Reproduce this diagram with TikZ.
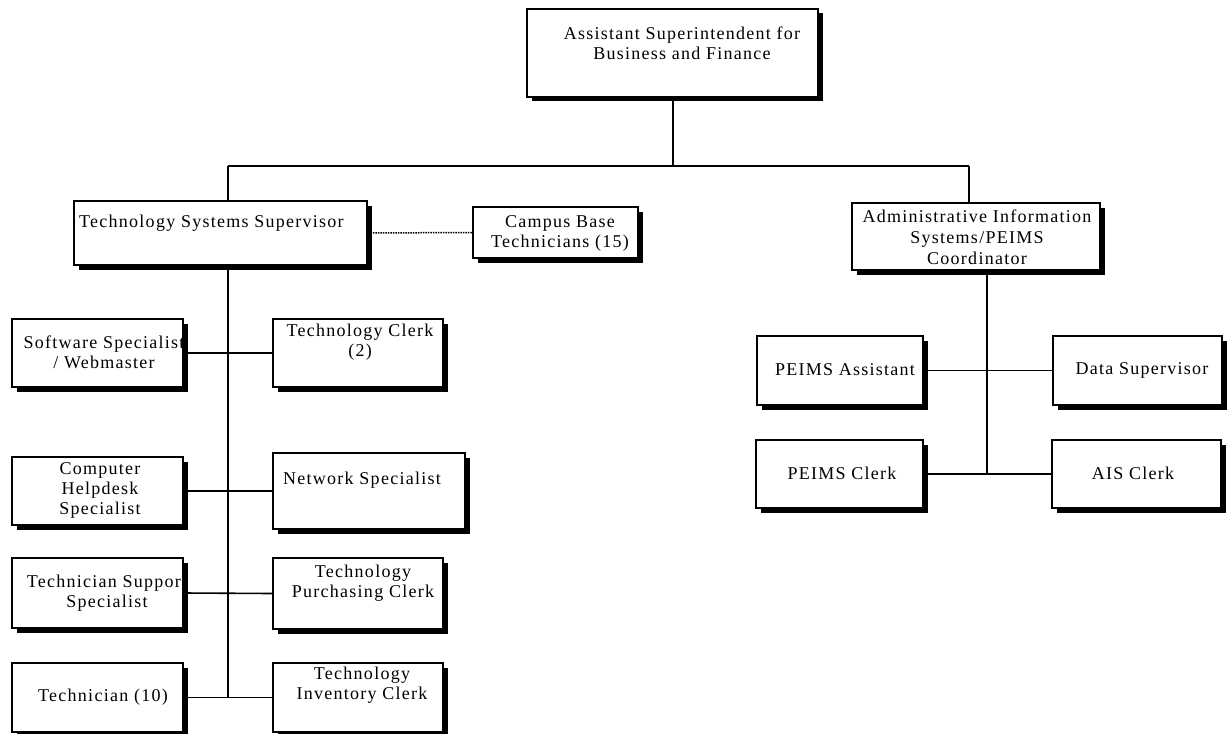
\documentclass[tikz,border=0pt]{standalone}
\usepackage{fontspec}
\setmainfont{Liberation Serif}[LetterSpace=7]
\usetikzlibrary{shadows,fit,backgrounds}
\begin{document}
\begin{tikzpicture}[x=1pt,y=-1pt,
  orgbox/.style={draw=black, line width=1.5pt, fill=white, inner sep=0pt,
    drop shadow={shadow xshift=4.5pt, shadow yshift=-4.5pt, opacity=1, fill=black}},
  orgtext/.style={inner sep=0pt, align=center, font=\fontsize{18}{20}\selectfont},
  link/.style={line width=1.6pt},
  dotlink/.style={line width=1.5pt, dash pattern=on 1.5pt off 1pt}]
\useasboundingbox (0,0) rectangle (1230,733);

% boxes, given by their corners
\node[orgbox, fit={(527,9) (818,97)}] (top) {};
\node[orgbox, fit={(74,201) (367,265)}] (tss) {};
\node[orgbox, fit={(473,207) (638,258)}] (campus) {};
\node[orgbox, fit={(852,203) (1100,270)}] (admin) {};
\node[orgbox, fit={(12,319) (183,387)}] (sw) {};
\node[orgbox, fit={(273,319) (443,387)}] (tclerk) {};
\node[orgbox, fit={(12,457) (183,525)}] (helpdesk) {};
\node[orgbox, fit={(273,453) (465,529)}] (network) {};
\node[orgbox, fit={(12,558) (183,628)}] (support) {};
\node[orgbox, fit={(273,558) (443,629)}] (purch) {};
\node[orgbox, fit={(12,663) (183,732)}] (tech10) {};
\node[orgbox, fit={(273,663) (443,732)}] (inventory) {};
\node[orgbox, fit={(757,336) (923,405)}] (peimsA) {};
\node[orgbox, fit={(1053,336) (1222,405)}] (data) {};
\node[orgbox, fit={(756,440) (923,508)}] (peimsC) {};
\node[orgbox, fit={(1052,440) (1221,508)}] (ais) {};

% box texts
\node[orgtext] (top-t) at (682,43) {Assistant Superintendent for\\Business and Finance};
\node[orgtext, anchor=west] (tss-t) at (79,223) {Technology Systems Supervisor};
\node[orgtext] (campus-t) at (560,233) {Campus Base\\Technicians (15)};
\node[orgtext, font=\fontsize{18}{21}\selectfont] (admin-t) at (977,237) {Administrative Information\\Systems/PEIMS\\Coordinator};
\begin{scope}
  \clip (sw.north west) rectangle (sw.south east);
  \node[orgtext] (sw-t) at (104,352) {Software Specialist\\/ Webmaster};
\end{scope}
\node[orgtext] (tclerk-t) at (360,342) {Technology Clerk\\(2)};
\node[orgtext] (helpdesk-t) at (100,490) {Computer\\Helpdesk\\Specialist};
\node[orgtext] (network-t) at (362,480) {Network Specialist};
\begin{scope}
  \clip (support.north west) rectangle (support.south east);
  \node[orgtext] (support-t) at (107,593) {Technician Support\\Specialist};
\end{scope}
\node[orgtext] (purch-t) at (363,583) {Technology\\Purchasing Clerk};
\node[orgtext] (tech10-t) at (103,697) {Technician (10)};
\node[orgtext] (inventory-t) at (362,685) {Technology\\Inventory Clerk};
\node[orgtext] (peimsA-t) at (845,370) {PEIMS Assistant};
\node[orgtext] (data-t) at (1142,370) {Data Supervisor};
\node[orgtext] (peimsC-t) at (842,473) {PEIMS Clerk};
\node[orgtext] (ais-t) at (1133,473) {AIS Clerk};

% junction points of the connector tree
\coordinate (busM) at (673,166);
\coordinate (busL) at (228,166);
\coordinate (busR) at (969,166);
\coordinate (spineEnd) at (228,697);
\coordinate (aisSpine) at (987,474);

\begin{pgfonlayer}{background}
  \draw[link] (top.south -| busM) -- (busM);
  \draw[link] (busL) -- (busR);
  \draw[link] (busL) -- (busL |- tss.north);
  \draw[link] (busR) -- (busR |- admin.north);
  \draw[link] (tss.south -| spineEnd) -- (spineEnd);
  \draw[link] (sw.east) -- (tclerk.west);
  \draw[link] (helpdesk.east) -- (network.west);
  \draw[link] (support.east) -- (purch.west);
  \draw[link] (tech10.east) -- (inventory.west);
  \draw[dotlink] (tss.east) -- (campus.west);
  \draw[link] (admin.south -| aisSpine) -- (aisSpine);
  \draw[link] (peimsA.east) -- (data.west);
  \draw[link] (peimsC.east) -- (ais.west);
\end{pgfonlayer}
\end{tikzpicture}
\end{document}
